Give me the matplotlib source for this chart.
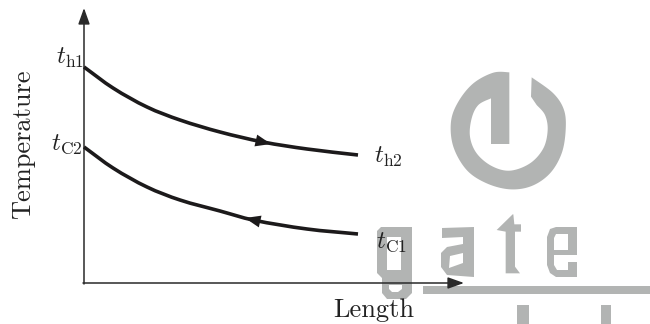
import matplotlib
matplotlib.use("Agg")
import matplotlib.pyplot as plt
import numpy as np
from matplotlib.patches import PathPatch
from matplotlib.path import Path

plt.rcParams["font.family"] = ["cmr10", "DejaVu Sans"]
plt.rcParams["mathtext.fontset"] = "cm"
plt.rcParams["axes.formatter.use_mathtext"] = True

# everything in pixel coordinates
hot_x = [84, 113, 147, 180, 220, 263, 307, 358]
hot_y = [67, 88, 107, 120, 132, 142, 149, 155]
cold_x = [84, 113, 147, 180, 220, 253, 307, 358]
cold_y = [147, 168, 187, 200, 211, 220, 229, 234]

GRAY = "#b2b4b3"
DARK = "#1c1a1b"


def crop(points, x0, y0):
    return [(x0 + x / 3, y0 + y / 3) for x, y in points]


ring_outer = crop([(448, 37), (400, 38), (340, 70), (295, 125), (273, 185), (280, 260), (320, 330),
                   (380, 370), (450, 388), (515, 378), (570, 340), (605, 280), (617, 210),
                   (612, 150), (580, 100), (515, 52)], 360, 60)
ring_inner = crop([(530, 135), (555, 165), (563, 210), (550, 265), (510, 310), (450, 332),
                   (395, 318), (350, 280), (330, 230), (335, 175), (355, 135), (393, 115)], 360, 60)
ring_stem = crop([(393, 252), (448, 252)], 360, 60)
ring_notch = crop([(513, 110)], 360, 60)

g_outer = [(377, 231), (381, 227), (412, 227), (412, 293), (406, 299), (387, 299), (382, 293),
           (382, 278), (377, 273)]
g_bowl = [(387, 237), (401, 237), (401, 270), (387, 270)]
g_notch = [(389, 285), (402, 285), (402, 289), (398, 292), (392, 292), (389, 289)]
a_shape = [(442, 228), (474, 227), (474, 277), (447, 275), (441, 267), (441, 253), (447, 247),
           (463, 244), (463, 237), (442, 238)]
a_hole = [(450, 256), (463, 253), (463, 263), (449, 268)]
t_shape = crop([(128, 28), (80, 75), (107, 80), (107, 205), (150, 205), (135, 185), (135, 80),
                (153, 80), (153, 58), (133, 58), (130, 28)], 470, 205)
e_shape = [(547, 237), (550, 229), (556, 227), (577, 227), (577, 255), (554, 255), (554, 265),
           (557, 270), (568, 270), (568, 262), (577, 262), (577, 277), (556, 277), (550, 273),
           (547, 265)]
e_hole = [(556, 234), (568, 234), (568, 250), (554, 250), (554, 238)]
bar = [(423, 286), (650, 286), (650, 294), (423, 294)]
foot_1 = [(517, 305), (529, 305), (529, 324), (517, 324)]
foot_2 = [(601, 305), (611, 305), (611, 324), (601, 324)]


def catmull(points, n=12):
    # dense smooth outline through traced logo points
    p = np.array([points[0]] + list(points) + [points[-1]], dtype=float)
    out = []
    for i in range(1, len(p) - 2):
        for t in np.linspace(0, 1, n, endpoint=False):
            out.append(0.5 * (2 * p[i] + (p[i + 1] - p[i - 1]) * t
                              + (2 * p[i - 1] - 5 * p[i] + 4 * p[i + 1] - p[i + 2]) * t ** 2
                              + (3 * p[i] - p[i - 1] - 3 * p[i + 1] + p[i + 2]) * t ** 3))
    out.append(p[-2])
    return [tuple(q) for q in out]


def outline(*rings):
    verts, codes = [], []
    for k, r in enumerate(rings):
        # holes run the other way so the fill leaves them open
        area = sum(a[0] * b[1] - b[0] * a[1] for a, b in zip(r, r[1:] + r[:1]))
        if (area > 0) != (k == 0):
            r = r[::-1]
        verts += r + [r[0]]
        codes += [Path.MOVETO] + [Path.LINETO] * (len(r) - 1) + [Path.CLOSEPOLY]
    return Path(verts, codes)


def curve_path(xs, ys):
    # cubic segments through the read points
    pts = np.column_stack([xs, ys]).astype(float)
    tan = np.gradient(pts, axis=0)
    verts, codes = [tuple(pts[0])], [Path.MOVETO]
    for i in range(len(pts) - 1):
        h = pts[i + 1][0] - pts[i][0]
        t0 = tan[i] / tan[i][0] * h / 3
        t1 = tan[i + 1] / tan[i + 1][0] * h / 3
        verts += [tuple(pts[i] + t0), tuple(pts[i + 1] - t1), tuple(pts[i + 1])]
        codes += [Path.CURVE4] * 3
    return Path(verts, codes)


fig = plt.figure(figsize=(6.5, 3.24), dpi=100)
ax = fig.add_axes([0, 0, 1, 1])
ax.set_xlim(0, 650)
ax.set_ylim(324, 0)
ax.axis("off")

ring = catmull(ring_outer) + ring_notch + catmull(ring_inner) + ring_stem
logo = [(ring,), (g_outer, g_bowl, g_notch), (a_shape, a_hole), (t_shape,), (e_shape, e_hole),
        (bar,), (foot_1,), (foot_2,)]
for parts in logo:
    ax.add_patch(PathPatch(outline(*parts), fc=GRAY, ec="none", zorder=1))

# axes
for end, start in [((84, 8), (84, 284)), ((464, 283), (83, 283))]:
    ax.annotate("", xy=end, xytext=start, zorder=3,
                arrowprops=dict(arrowstyle="-|>,head_length=0.7,head_width=0.25", lw=1.1,
                                color="#2a2a2a", shrinkA=0, shrinkB=0, mutation_scale=14))

for xs, ys in [(hot_x, hot_y), (cold_x, cold_y)]:
    ax.add_patch(PathPatch(curve_path(xs, ys), fc="none", ec=DARK, lw=2.6,
                           capstyle="butt", zorder=4))

# flow direction marks on the curves
for tip, tail in [((271, 144), (258, 141)), ((245, 218), (258, 221))]:
    ax.annotate("", xy=tip, xytext=tail, zorder=5,
                arrowprops=dict(arrowstyle="-|>,head_length=0.7,head_width=0.27", lw=0,
                                color=DARK, shrinkA=0, shrinkB=0, mutation_scale=16))

ax.text(35, 144, "Temperature", rotation=90, fontsize=19, color="#222222",
        ha="right", va="center", zorder=6)
ax.text(374, 310, "Length", fontsize=19, color="#222222", ha="center", va="center", zorder=6)
for x, y, label, align in [(84, 58, r"$t_{\mathrm{h1}}$", "right"),
                           (83, 144, r"$t_{\mathrm{C2}}$", "right"),
                           (374, 157, r"$t_{\mathrm{h2}}$", "left"),
                           (376, 242, r"$t_{\mathrm{C1}}$", "left")]:
    ax.text(x, y, label, fontsize=18, color="#222222", ha=align, va="center", zorder=6)

fig.savefig("out.png", dpi=100)
